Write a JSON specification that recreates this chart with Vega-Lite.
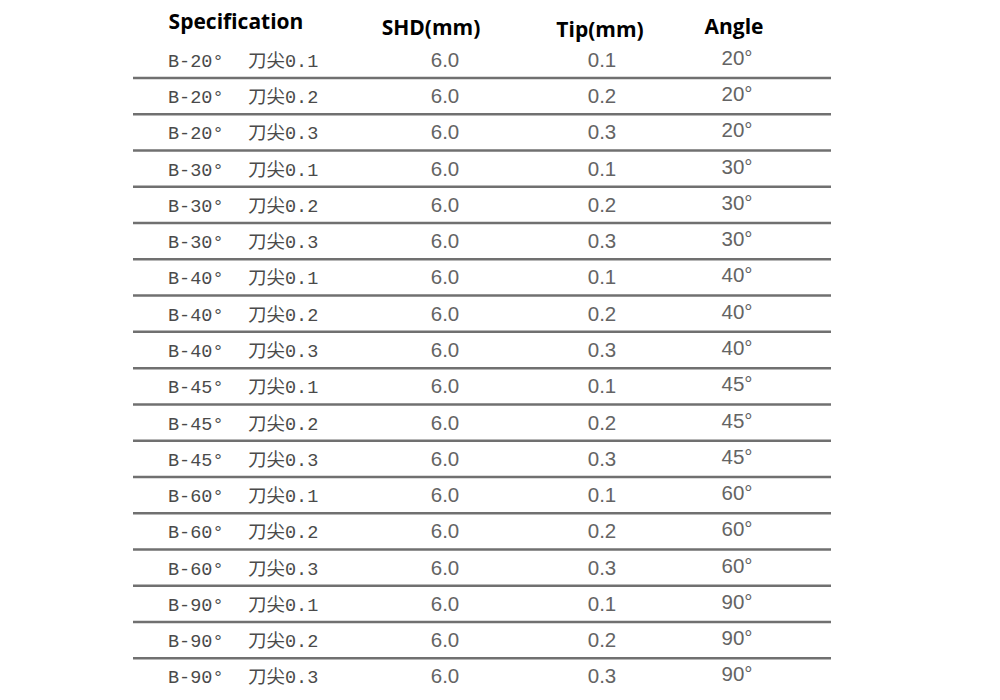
{
  "$schema": "https://vega.github.io/schema/vega-lite/v6.json",
  "width": 1000,
  "height": 700,
  "autosize": "none",
  "padding": 0,
  "background": "white",
  "config": {"view": {"stroke": null}},
  "data": {
    "values": [
      {"row": 1, "code": "B-20°", "name": "刀尖0.1", "shd": "6.0", "tip": "0.1", "angle": "20°"},
      {"row": 2, "code": "B-20°", "name": "刀尖0.2", "shd": "6.0", "tip": "0.2", "angle": "20°"},
      {"row": 3, "code": "B-20°", "name": "刀尖0.3", "shd": "6.0", "tip": "0.3", "angle": "20°"},
      {"row": 4, "code": "B-30°", "name": "刀尖0.1", "shd": "6.0", "tip": "0.1", "angle": "30°"},
      {"row": 5, "code": "B-30°", "name": "刀尖0.2", "shd": "6.0", "tip": "0.2", "angle": "30°"},
      {"row": 6, "code": "B-30°", "name": "刀尖0.3", "shd": "6.0", "tip": "0.3", "angle": "30°"},
      {"row": 7, "code": "B-40°", "name": "刀尖0.1", "shd": "6.0", "tip": "0.1", "angle": "40°"},
      {"row": 8, "code": "B-40°", "name": "刀尖0.2", "shd": "6.0", "tip": "0.2", "angle": "40°"},
      {"row": 9, "code": "B-40°", "name": "刀尖0.3", "shd": "6.0", "tip": "0.3", "angle": "40°"},
      {"row": 10, "code": "B-45°", "name": "刀尖0.1", "shd": "6.0", "tip": "0.1", "angle": "45°"},
      {"row": 11, "code": "B-45°", "name": "刀尖0.2", "shd": "6.0", "tip": "0.2", "angle": "45°"},
      {"row": 12, "code": "B-45°", "name": "刀尖0.3", "shd": "6.0", "tip": "0.3", "angle": "45°"},
      {"row": 13, "code": "B-60°", "name": "刀尖0.1", "shd": "6.0", "tip": "0.1", "angle": "60°"},
      {"row": 14, "code": "B-60°", "name": "刀尖0.2", "shd": "6.0", "tip": "0.2", "angle": "60°"},
      {"row": 15, "code": "B-60°", "name": "刀尖0.3", "shd": "6.0", "tip": "0.3", "angle": "60°"},
      {"row": 16, "code": "B-90°", "name": "刀尖0.1", "shd": "6.0", "tip": "0.1", "angle": "90°"},
      {"row": 17, "code": "B-90°", "name": "刀尖0.2", "shd": "6.0", "tip": "0.2", "angle": "90°"},
      {"row": 18, "code": "B-90°", "name": "刀尖0.3", "shd": "6.0", "tip": "0.3", "angle": "90°"}
    ]
  },
  "layer": [
    {
      "transform": [{"filter": "datum.row <= 17"}],
      "mark": {"type": "rule", "color": "#707070", "strokeWidth": 2.5},
      "encoding": {
        "y": {"field": "row", "type": "ordinal", "bandPosition": 1, "axis": null,
              "scale": {"type": "band", "domain": [0,1,2,3,4,5,6,7,8,9,10,11,12,13,14,15,16,17,18], "range": [5.6, 694.4], "paddingInner": 0, "paddingOuter": 0}},
        "x": {"datum": 133, "type": "quantitative", "axis": null, "scale": {"domain": [0, 1000], "range": [0, 1000]}},
        "x2": {"datum": 831}
      }
    },
    {
      "mark": {"type": "text", "align": "left", "baseline": "middle", "font": "Liberation Mono", "fontSize": 18.5, "color": "#4a4a4a", "dy": 1},
      "encoding": {
        "y": {"field": "row", "type": "ordinal"},
        "x": {"datum": 168, "type": "quantitative"},
        "text": {"field": "code"}
      }
    },
    {
      "mark": {"type": "text", "align": "left", "baseline": "middle", "font": "Liberation Mono, Noto Sans CJK SC", "fontSize": 18.5, "color": "#4a4a4a", "dy": 1},
      "encoding": {
        "y": {"field": "row", "type": "ordinal"},
        "x": {"datum": 248, "type": "quantitative"},
        "text": {"field": "name"}
      }
    },
    {
      "mark": {"type": "text", "align": "center", "baseline": "middle", "font": "Liberation Sans", "fontSize": 20.5, "color": "#646464", "dy": 1},
      "encoding": {
        "y": {"field": "row", "type": "ordinal"},
        "x": {"datum": 445, "type": "quantitative"},
        "text": {"field": "shd"}
      }
    },
    {
      "mark": {"type": "text", "align": "center", "baseline": "middle", "font": "Liberation Sans", "fontSize": 20.5, "color": "#646464", "dy": 1},
      "encoding": {
        "y": {"field": "row", "type": "ordinal"},
        "x": {"datum": 602, "type": "quantitative"},
        "text": {"field": "tip"}
      }
    },
    {
      "mark": {"type": "text", "align": "center", "baseline": "middle", "font": "Liberation Sans", "fontSize": 20.5, "color": "#646464", "dy": -1},
      "encoding": {
        "y": {"field": "row", "type": "ordinal"},
        "x": {"datum": 737, "type": "quantitative"},
        "text": {"field": "angle"}
      }
    },
    {
      "data": {"values": [{"row": 0, "head": "Specification"}]},
      "mark": {"type": "text", "align": "center", "baseline": "middle", "font": "Open Sans", "fontWeight": "bold", "fontSize": 21, "color": "#000000", "dy": -1},
      "encoding": {
        "y": {"field": "row", "type": "ordinal"},
        "x": {"datum": 236, "type": "quantitative"},
        "text": {"field": "head"}
      }
    },
    {
      "data": {"values": [{"row": 0, "head": "SHD(mm)"}]},
      "mark": {"type": "text", "align": "center", "baseline": "middle", "font": "Open Sans", "fontWeight": "bold", "fontSize": 21, "color": "#000000", "dy": 5},
      "encoding": {
        "y": {"field": "row", "type": "ordinal"},
        "x": {"datum": 431, "type": "quantitative"},
        "text": {"field": "head"}
      }
    },
    {
      "data": {"values": [{"row": 0, "head": "Tip(mm)"}]},
      "mark": {"type": "text", "align": "center", "baseline": "middle", "font": "Open Sans", "fontWeight": "bold", "fontSize": 21, "color": "#000000", "dy": 7},
      "encoding": {
        "y": {"field": "row", "type": "ordinal"},
        "x": {"datum": 600, "type": "quantitative"},
        "text": {"field": "head"}
      }
    },
    {
      "data": {"values": [{"row": 0, "head": "Angle"}]},
      "mark": {"type": "text", "align": "center", "baseline": "middle", "font": "Open Sans", "fontWeight": "bold", "fontSize": 21, "color": "#000000", "dy": 4},
      "encoding": {
        "y": {"field": "row", "type": "ordinal"},
        "x": {"datum": 734, "type": "quantitative"},
        "text": {"field": "head"}
      }
    }
  ]
}
